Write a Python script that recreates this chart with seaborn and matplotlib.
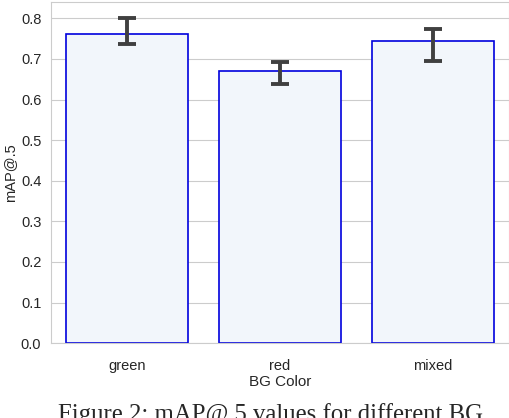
import numpy as np
import matplotlib
matplotlib.use("Agg")
import matplotlib.pyplot as plt
import seaborn as sns
import pandas as pd

# values
colors = ["green", "red", "mixed"]
map_means = [0.762, 0.671, 0.745]
err_low = [0.738, 0.639, 0.694]
err_high = [0.800, 0.692, 0.773]

df = pd.DataFrame({"BG Color": colors, "mAP@.5": map_means})

sns.set_style("whitegrid")
plt.rcParams["font.family"] = ["Liberation Sans", "DejaVu Sans"]

fig = plt.figure(figsize=(5.1, 4.18), dpi=100)
ax = fig.add_axes([0.1, 0.179, 0.898, 0.816])

sns.barplot(data=df, x="BG Color", y="mAP@.5", color="#f1f6fc",
            edgecolor="#0000dd", linewidth=1.2, errorbar=None, ax=ax)

#asymmetric error bars
yerr = np.array([np.array(map_means) - np.array(err_low),
                 np.array(err_high) - np.array(map_means)])
ax.errorbar(np.arange(len(colors)), map_means, yerr=yerr, fmt="none",
            ecolor="#404040", elinewidth=2.8, capsize=6.5, capthick=2.8)

ax.set_ylim(0, 0.84)
ax.set_xlim(-0.5, 2.5)
ax.set_yticks(np.arange(0, 0.81, 0.1))
ax.tick_params(labelsize=10.5, colors="#262626")
ax.tick_params(axis="x", pad=8)
ax.set_xlabel("BG Color", fontsize=11, labelpad=1)
ax.set_ylabel("mAP@.5", fontsize=10.5, labelpad=3)
for s in ax.spines.values():
    s.set_color("#cccccc")

# caption sits partly below the bottom edge, as in the source
fig.text(0.53, -3 / 418, "Figure 2: mAP@.5 values for different BG", ha="center",
         va="baseline", fontsize=17.8, family=["Liberation Serif", "DejaVu Serif"])

fig.savefig("out.png", dpi=100)
